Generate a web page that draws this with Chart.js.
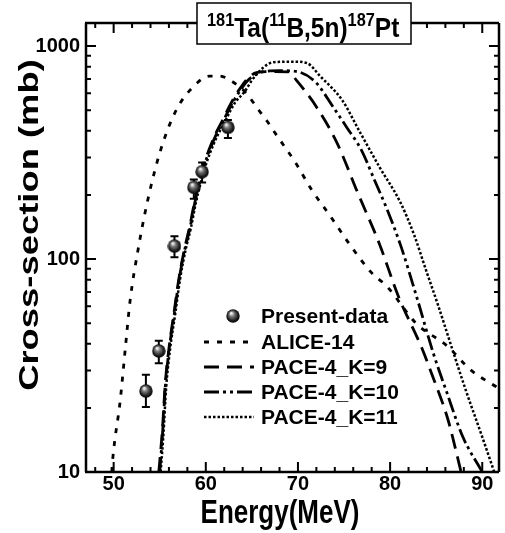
<!DOCTYPE html>
<html>
<head>
<meta charset="utf-8">
<script src="https://cdn.jsdelivr.net/npm/chart.js@4.4.0/dist/chart.umd.min.js"></script>
<style>
  html, body { margin: 0; padding: 0; background: #fff; }
</style>
</head>
<body>
<canvas id="xs-chart" width="505" height="533"></canvas>
<script>
// measured cross sections (mb) with error bars
const expEnergy = [53.5, 54.9, 56.6, 58.7, 59.6, 62.4];
const expSigma = [24, 37, 115, 217, 257, 415];
const expErrLow = [20.2, 32.4, 102, 192, 229, 370];
const expErrHigh = [28.6, 41.3, 128, 236, 284, 450];

// ALICE-14
const aliceEnergy = [49.8, 49.87, 50.72, 51.25, 51.79, 52.64, 53.7, 55.09, 56.79, 58.81, 60.41, 61.5, 62.9, 64.4, 65.6, 66.7, 67.8, 68.7, 69.7, 71.5, 73.6, 75.5, 77.9, 79.7, 82.8, 86.2, 88.8, 91.6];
const aliceSigma = [10, 11.1, 21.8, 37.4, 64, 110, 189, 324, 500, 655, 723, 723, 680, 600, 510, 441, 375, 330, 285, 211, 157, 119, 87, 74, 50, 39, 30, 25];

// PACE-4, K=9
const k9Energy = [54.9, 55.3, 55.6, 56.0, 56.6, 57.1, 57.7, 58.3, 58.8, 59.3, 59.8, 60.4, 61.1, 61.9, 62.5, 63.1, 63.8, 64.5, 65.5, 67.0, 69.0, 69.8, 72.1, 74.25, 76.5, 78.8, 80.95, 83.4, 84.5, 86.3, 87.3, 87.7];
const k9Sigma = [10, 16, 26, 38, 58, 82, 112, 145, 188, 230, 278, 330, 390, 455, 515, 575, 640, 700, 750, 758, 756, 694, 511, 350, 204, 119, 66, 38.6, 29, 17.5, 11.8, 10];

// PACE-4, K=10
const k10Energy = [55.0, 55.3, 55.6, 56.0, 56.6, 57.1, 57.7, 58.3, 58.8, 59.3, 59.8, 60.4, 61.1, 61.9, 62.5, 63.1, 63.8, 64.5, 65.4, 66.5, 68.0, 69.8, 71.9, 73.8, 75.3, 76.9, 78.3, 79.7, 81.2, 82.9, 84.7, 86.1, 87.9, 90.0];
const k10Sigma = [10, 15, 25, 37, 56, 80, 110, 141, 183, 226, 272, 323, 382, 445, 502, 560, 625, 685, 735, 760, 766, 760, 678, 519, 415, 324, 235, 170, 114, 66, 36, 24, 14.6, 10];

// PACE-4, K=11
const k11Energy = [55.1, 55.4, 55.7, 56.1, 56.7, 57.2, 57.8, 58.4, 58.9, 59.4, 59.9, 60.5, 61.2, 62.0, 62.6, 63.2, 64.2, 65.0, 65.8, 66.8, 67.6, 69.5, 71.0, 72.4, 74.8, 76.7, 78.9, 81.1, 82.6, 83.9, 85.2, 86.6, 88.2, 90.0, 91.3];
const k11Sigma = [10, 15, 25, 37, 56, 80, 110, 141, 182, 224, 268, 318, 375, 435, 490, 545, 610, 690, 760, 825, 841, 845, 831, 723, 557, 396, 268, 185, 130, 88.6, 60.8, 39.5, 24.3, 14.6, 10];

const seriesLabels = ["Present-data", "ALICE-14", "PACE-4_K=9", "PACE-4_K=10", "PACE-4_K=11"];

const xMajorTicks = [50, 60, 70, 80, 90];
const xMinorTicks = [48, 52, 54, 56, 58, 62, 64, 66, 68, 72, 74, 76, 78, 82, 84, 86, 88];
const yMajorTicks = [10, 100, 1000];
const yMinorTicks = [20, 30, 40, 50, 60, 70, 80, 90, 200, 300, 400, 500, 600, 700, 800, 900];

const titleParts = [["181", true], ["Ta(", false], ["11", true], ["B,5n)", false], ["187", true], ["Pt", false]];
const xTitle = "Energy(MeV)";
const yTitle = "Cross-section (mb)";

const FONT = "Arial, 'Liberation Sans', sans-serif";

function toPoints(xs, ys) {
  return xs.map((v, i) => ({ x: v, y: ys[i] }));
}

// shaded ball used as the marker
function makeBall(r) {
  const c = document.createElement("canvas");
  c.width = c.height = r * 2;
  const g = c.getContext("2d");
  const grad = g.createRadialGradient(r * 0.75, r * 0.6, r * 0.1, r, r, r);
  grad.addColorStop(0, "#eeeeee");
  grad.addColorStop(0.3, "#7a7a7a");
  grad.addColorStop(0.75, "#1c1c1c");
  grad.addColorStop(1, "#000");
  g.fillStyle = grad;
  g.beginPath();
  g.arc(r, r, r - 0.3, 0, Math.PI * 2);
  g.fill();
  return c;
}
const ball = makeBall(7);

function curve(label, xs, ys, dash, width) {
  return {
    label: label,
    data: toPoints(xs, ys),
    showLine: true,
    borderColor: "#000",
    backgroundColor: "#000",
    borderWidth: width,
    borderDash: dash,
    pointRadius: 0,
    cubicInterpolationMode: "monotone",
    fill: false
  };
}

const errorBars = {
  id: "errorBars",
  beforeDatasetsDraw(chart) {
    const { ctx, scales: { x, y } } = chart;
    ctx.save();
    ctx.strokeStyle = "#000";
    ctx.lineWidth = 2;
    expEnergy.forEach((e, i) => {
      const px = x.getPixelForValue(e);
      const top = y.getPixelForValue(expErrHigh[i]);
      const bot = y.getPixelForValue(expErrLow[i]);
      ctx.beginPath();
      ctx.moveTo(px, top); ctx.lineTo(px, bot);
      ctx.moveTo(px - 4, top); ctx.lineTo(px + 4, top);
      ctx.moveTo(px - 4, bot); ctx.lineTo(px + 4, bot);
      ctx.stroke();
    });
    ctx.restore();
  }
};

const frame = {
  id: "frame",
  afterDatasetsDraw(chart) {
    const { ctx, chartArea: a, scales: { x, y } } = chart;
    const right = a.right + 2;
    ctx.save();
    ctx.strokeStyle = "#000";
    ctx.lineWidth = 2.5;
    ctx.beginPath();
    ctx.moveTo(a.left, a.top); ctx.lineTo(a.left, a.bottom);
    ctx.moveTo(a.left - 1, a.bottom); ctx.lineTo(right, a.bottom);
    ctx.moveTo(a.left - 1, a.top); ctx.lineTo(right, a.top);
    ctx.moveTo(right, a.top); ctx.lineTo(right, a.bottom);
    ctx.stroke();
    ctx.lineWidth = 2;
    ctx.beginPath();
    const tx = (v, len) => {
      const p = x.getPixelForValue(v);
      ctx.moveTo(p, a.bottom); ctx.lineTo(p, a.bottom - len);
      ctx.moveTo(p, a.top); ctx.lineTo(p, a.top + len);
    };
    const ty = (v, len) => {
      const p = y.getPixelForValue(v);
      ctx.moveTo(a.left, p); ctx.lineTo(a.left + len, p);
      ctx.moveTo(right, p); ctx.lineTo(right - len, p);
    };
    xMajorTicks.forEach(v => tx(v, 10));
    xMinorTicks.forEach(v => tx(v, 5));
    yMajorTicks.forEach(v => ty(v, 10));
    yMinorTicks.forEach(v => ty(v, 5));
    ctx.stroke();
    ctx.restore();
  }
};

const decorations = {
  id: "decorations",
  afterDraw(chart) {
    const ctx = chart.ctx;
    const ds = chart.data.datasets;
    ctx.save();

    // reaction label box
    ctx.fillStyle = "#fff";
    ctx.fillRect(197, 3, 214, 41);
    ctx.strokeStyle = "#000";
    ctx.lineWidth = 1.5;
    ctx.strokeRect(197, 3, 214, 41);
    ctx.fillStyle = "#000";
    ctx.textBaseline = "alphabetic";
    ctx.textAlign = "left";
    let cx = 207;
    titleParts.forEach(([t, sup]) => {
      ctx.font = "bold " + (sup ? 16 : 24) + "px " + FONT;
      ctx.save();
      ctx.translate(cx, sup ? 26 : 37);
      ctx.scale(1.02, 1.12);
      ctx.fillText(t, 0, 0);
      ctx.restore();
      cx += ctx.measureText(t).width * 1.02;
    });

    // axis titles
    ctx.font = "bold 26px " + FONT;
    ctx.textAlign = "center";
    ctx.save();
    ctx.translate(280, 523);
    ctx.scale(1, 1.3);
    ctx.fillText(xTitle, 0, 0);
    ctx.restore();

    ctx.font = "bold 28px " + FONT;
    ctx.save();
    ctx.translate(38, 225);
    ctx.rotate(-Math.PI / 2);
    ctx.scale(1.3, 1);
    ctx.fillText(yTitle, 0, 0);
    ctx.restore();

    // legend
    const rows = [316, 342, 367, 392, 417];
    ctx.font = "bold 21px " + FONT;
    ctx.textAlign = "left";
    ctx.textBaseline = "middle";
    rows.forEach((ry, i) => {
      if (i === 0) {
        ctx.drawImage(ball, 233 - ball.width / 2, ry - ball.height / 2);
      } else {
        ctx.save();
        ctx.strokeStyle = "#000";
        ctx.lineWidth = ds[i].borderWidth;
        ctx.setLineDash(ds[i].borderDash);
        ctx.beginPath();
        ctx.moveTo(204, ry);
        ctx.lineTo(254, ry);
        ctx.stroke();
        ctx.restore();
      }
      ctx.fillText(seriesLabels[i], 261, ry + 1);
    });
    ctx.restore();
  }
};

const ctx = document.getElementById("xs-chart").getContext("2d");
const xsChart = new Chart(ctx, {
  type: "scatter",
  data: {
    datasets: [
      {
        label: seriesLabels[0],
        data: toPoints(expEnergy, expSigma),
        pointStyle: ball,
        pointRadius: 7,
        showLine: false
      },
      curve(seriesLabels[1], aliceEnergy, aliceSigma, [5, 8], 2.8),
      curve(seriesLabels[2], k9Energy, k9Sigma, [15, 8], 2.8),
      curve(seriesLabels[3], k10Energy, k10Sigma, [15, 4, 3, 4, 3, 4], 2.8),
      curve(seriesLabels[4], k11Energy, k11Sigma, [2.5, 2], 2.5)
    ]
  },
  options: {
    responsive: false,
    animation: false,
    devicePixelRatio: 1,
    layout: { padding: { top: 23, left: 0, right: 0, bottom: 0 } },
    plugins: {
      legend: { display: false },
      tooltip: { enabled: false }
    },
    scales: {
      x: {
        type: "linear",
        min: 47,
        max: 91.6,
        border: { display: false },
        grid: { display: false, drawTicks: false, tickLength: 0 },
        ticks: {
          color: "#000",
          padding: 0,
          maxRotation: 0,
          font: { family: FONT, size: 20, weight: "bold" }
        },
        afterBuildTicks: (scale) => { scale.ticks = xMajorTicks.map(v => ({ value: v })); },
        afterFit: (scale) => { scale.height = 61; }
      },
      y: {
        type: "logarithmic",
        min: 10,
        max: 1283,
        border: { display: false },
        grid: { display: false, drawTicks: false, tickLength: 0 },
        ticks: {
          color: "#000",
          padding: 6,
          font: { family: FONT, size: 20, weight: "bold" },
          callback: (v) => String(v)
        },
        afterBuildTicks: (scale) => { scale.ticks = yMajorTicks.map(v => ({ value: v })); },
        afterFit: (scale) => { scale.width = 86; }
      }
    }
  },
  plugins: [errorBars, frame, decorations]
});
</script>
</body>
</html>
